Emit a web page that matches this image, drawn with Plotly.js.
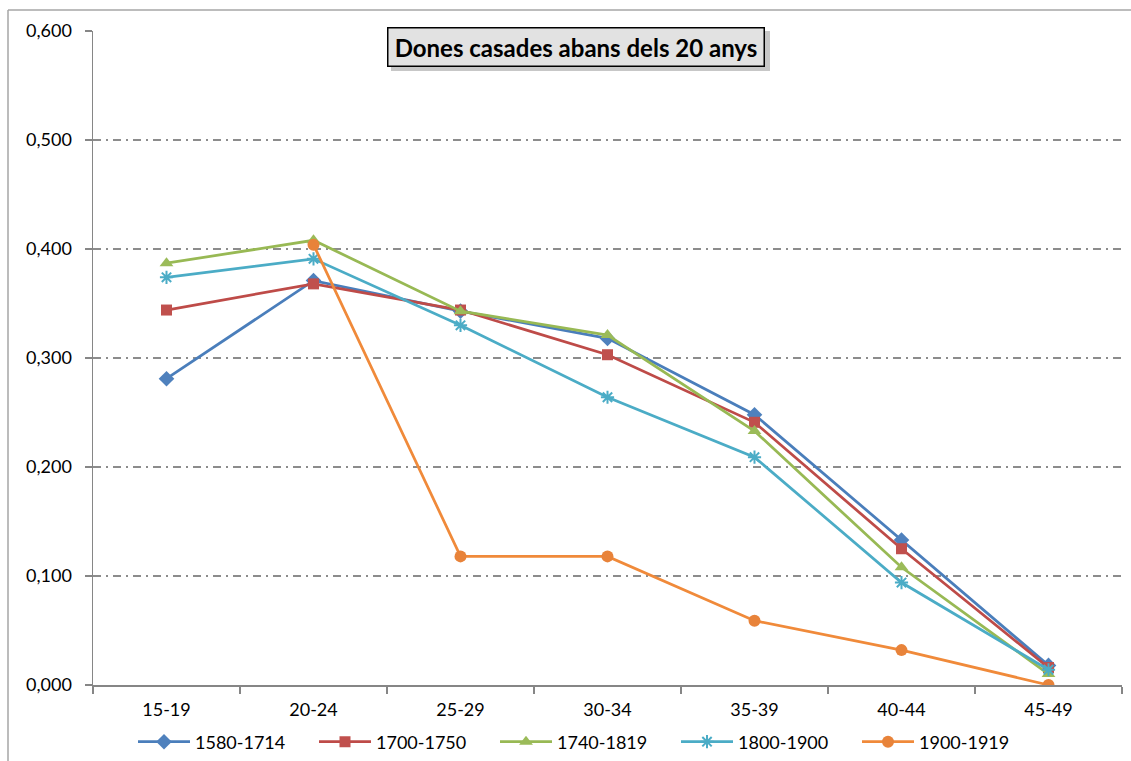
<!DOCTYPE html>
<html>
<head>
<meta charset="utf-8">
<script src="https://cdn.plot.ly/plotly-3.0.1.min.js"></script>
<style>
html,body{margin:0;padding:0;background:#fff;}
#chart{width:1131px;height:761px;}
</style>
</head>
<body>
<div id="chart"></div>
<script>
var categories = ["15-19","20-24","25-29","30-34","35-39","40-44","45-49"];
var s1580_1714 = [0.281, 0.371, 0.343, 0.318, 0.248, 0.133, 0.018];
var s1700_1750 = [0.344, 0.368, 0.344, 0.303, 0.241, 0.125, 0.016];
var s1740_1819 = [0.387, 0.408, 0.343, 0.321, 0.233, 0.108, 0.010];
var s1800_1900 = [0.374, 0.391, 0.330, 0.264, 0.209, 0.094, 0.014];
var s1900_1919 = [null, 0.404, 0.118, 0.118, 0.059, 0.032, 0.000];
var seriesNames = ["1580-1714","1700-1750","1740-1819","1800-1900","1900-1919"];
var yTicks = [0, 0.1, 0.2, 0.3, 0.4, 0.5, 0.6];
var titleText = "Dones casades abans dels 20 anys";

var seriesValues = [s1580_1714, s1700_1750, s1740_1819, s1800_1900, s1900_1919];
var lineColors = ["#4A7EBB","#BE4B48","#98B954","#4BACC6","#F08A3A"];
var markerColors = ["#4F81BD","#C0504D","#9BBB59","#4BACC6","#E8833A"];
var symbols = ["diamond","square","triangle-up","asterisk-open","circle"];
var sizes = [12, 11, 12, 11, 12];

var traces = seriesValues.map(function(v, i){
  return {
    type: "scatter",
    mode: "lines+markers",
    x: categories,
    y: v,
    name: seriesNames[i],
    connectgaps: false,
    line: {color: lineColors[i], width: 2.75},
    marker: {symbol: symbols[i], size: sizes[i], color: markerColors[i],
             line: {color: markerColors[i], width: (symbols[i]==="asterisk-open"?2:0)}}
  };
});

var ml = 93, mr = 9, mt = 31, mb = 76;
var pw = 1131 - ml - mr, ph = 761 - mt - mb;
function px(x){ return (x - ml) / pw; }
function py(y){ return (761 - mb - y) / ph; }

var layout = {
  width: 1131, height: 761,
  margin: {l: ml, r: mr, t: mt, b: mb, pad: 0},
  paper_bgcolor: "#ffffff",
  plot_bgcolor: "#ffffff",
  separators: ",.",
  font: {family: "Lato, 'Open Sans', sans-serif", size: 18, color: "#000"},
  showlegend: true,
  legend: {
    orientation: "h",
    x: px(133), xanchor: "left", xref: "paper",
    y: (761 - 742) / 761, yanchor: "middle", yref: "container",
    entrywidth: 114, entrywidthmode: "pixels",
    itemwidth: 52,
    font: {size: 18, color: "#000"},
    bgcolor: "rgba(0,0,0,0)",
    traceorder: "normal"
  },
  xaxis: {
    type: "category",
    range: [-0.5, 6.5],
    automargin: false,
    showgrid: false,
    zeroline: false,
    showline: true, linecolor: "#868686", linewidth: 1.5,
    ticks: "outside", ticklen: 7, tickcolor: "#868686", tickwidth: 1.5,
    tickson: "boundaries",
    tickfont: {size: 18},
    ticklabelstandoff: 8,
    fixedrange: true
  },
  yaxis: {
    range: [0, 0.6],
    automargin: false,
    tickvals: yTicks,
    tickformat: ".3f",
    showgrid: true, gridcolor: "#8c8c8c", griddash: "8px,5px,2px,5px", gridwidth: 1.3,
    zeroline: false,
    showline: true, linecolor: "#868686", linewidth: 1.5,
    ticks: "outside", ticklen: 7, tickcolor: "#868686", tickwidth: 1.5,
    tickfont: {size: 18},
    ticklabelstandoff: 9,
    fixedrange: true
  },
  shapes: [
    {type: "line", xref: "paper", yref: "paper", x0: px(8), x1: px(8), y0: py(761), y1: py(10),
     line: {color: "#A6A6A6", width: 1.5}},
    {type: "line", xref: "paper", yref: "paper", x0: px(8), x1: px(1131), y0: py(10), y1: py(10),
     line: {color: "#A6A6A6", width: 1.5}},
    {type: "rect", xref: "paper", yref: "paper", x0: px(391), x1: px(770), y0: py(71), y1: py(31),
     fillcolor: "rgba(0,0,0,0.22)", line: {width: 0}, layer: "above"}
  ],
  annotations: [
    {xref: "paper", yref: "paper", x: px(576), y: py(47), xanchor: "center", yanchor: "middle",
     text: "<b>" + titleText + "</b>", showarrow: false,
     font: {size: 24, color: "#000", family: "Lato, 'Open Sans', sans-serif"},
     bgcolor: "#E2E2E2", bordercolor: "#000", borderwidth: 1.5,
     width: 373, height: 35}
  ]
};

Plotly.newPlot("chart", traces, layout, {staticPlot: true, displayModeBar: false});
</script>
</body>
</html>
